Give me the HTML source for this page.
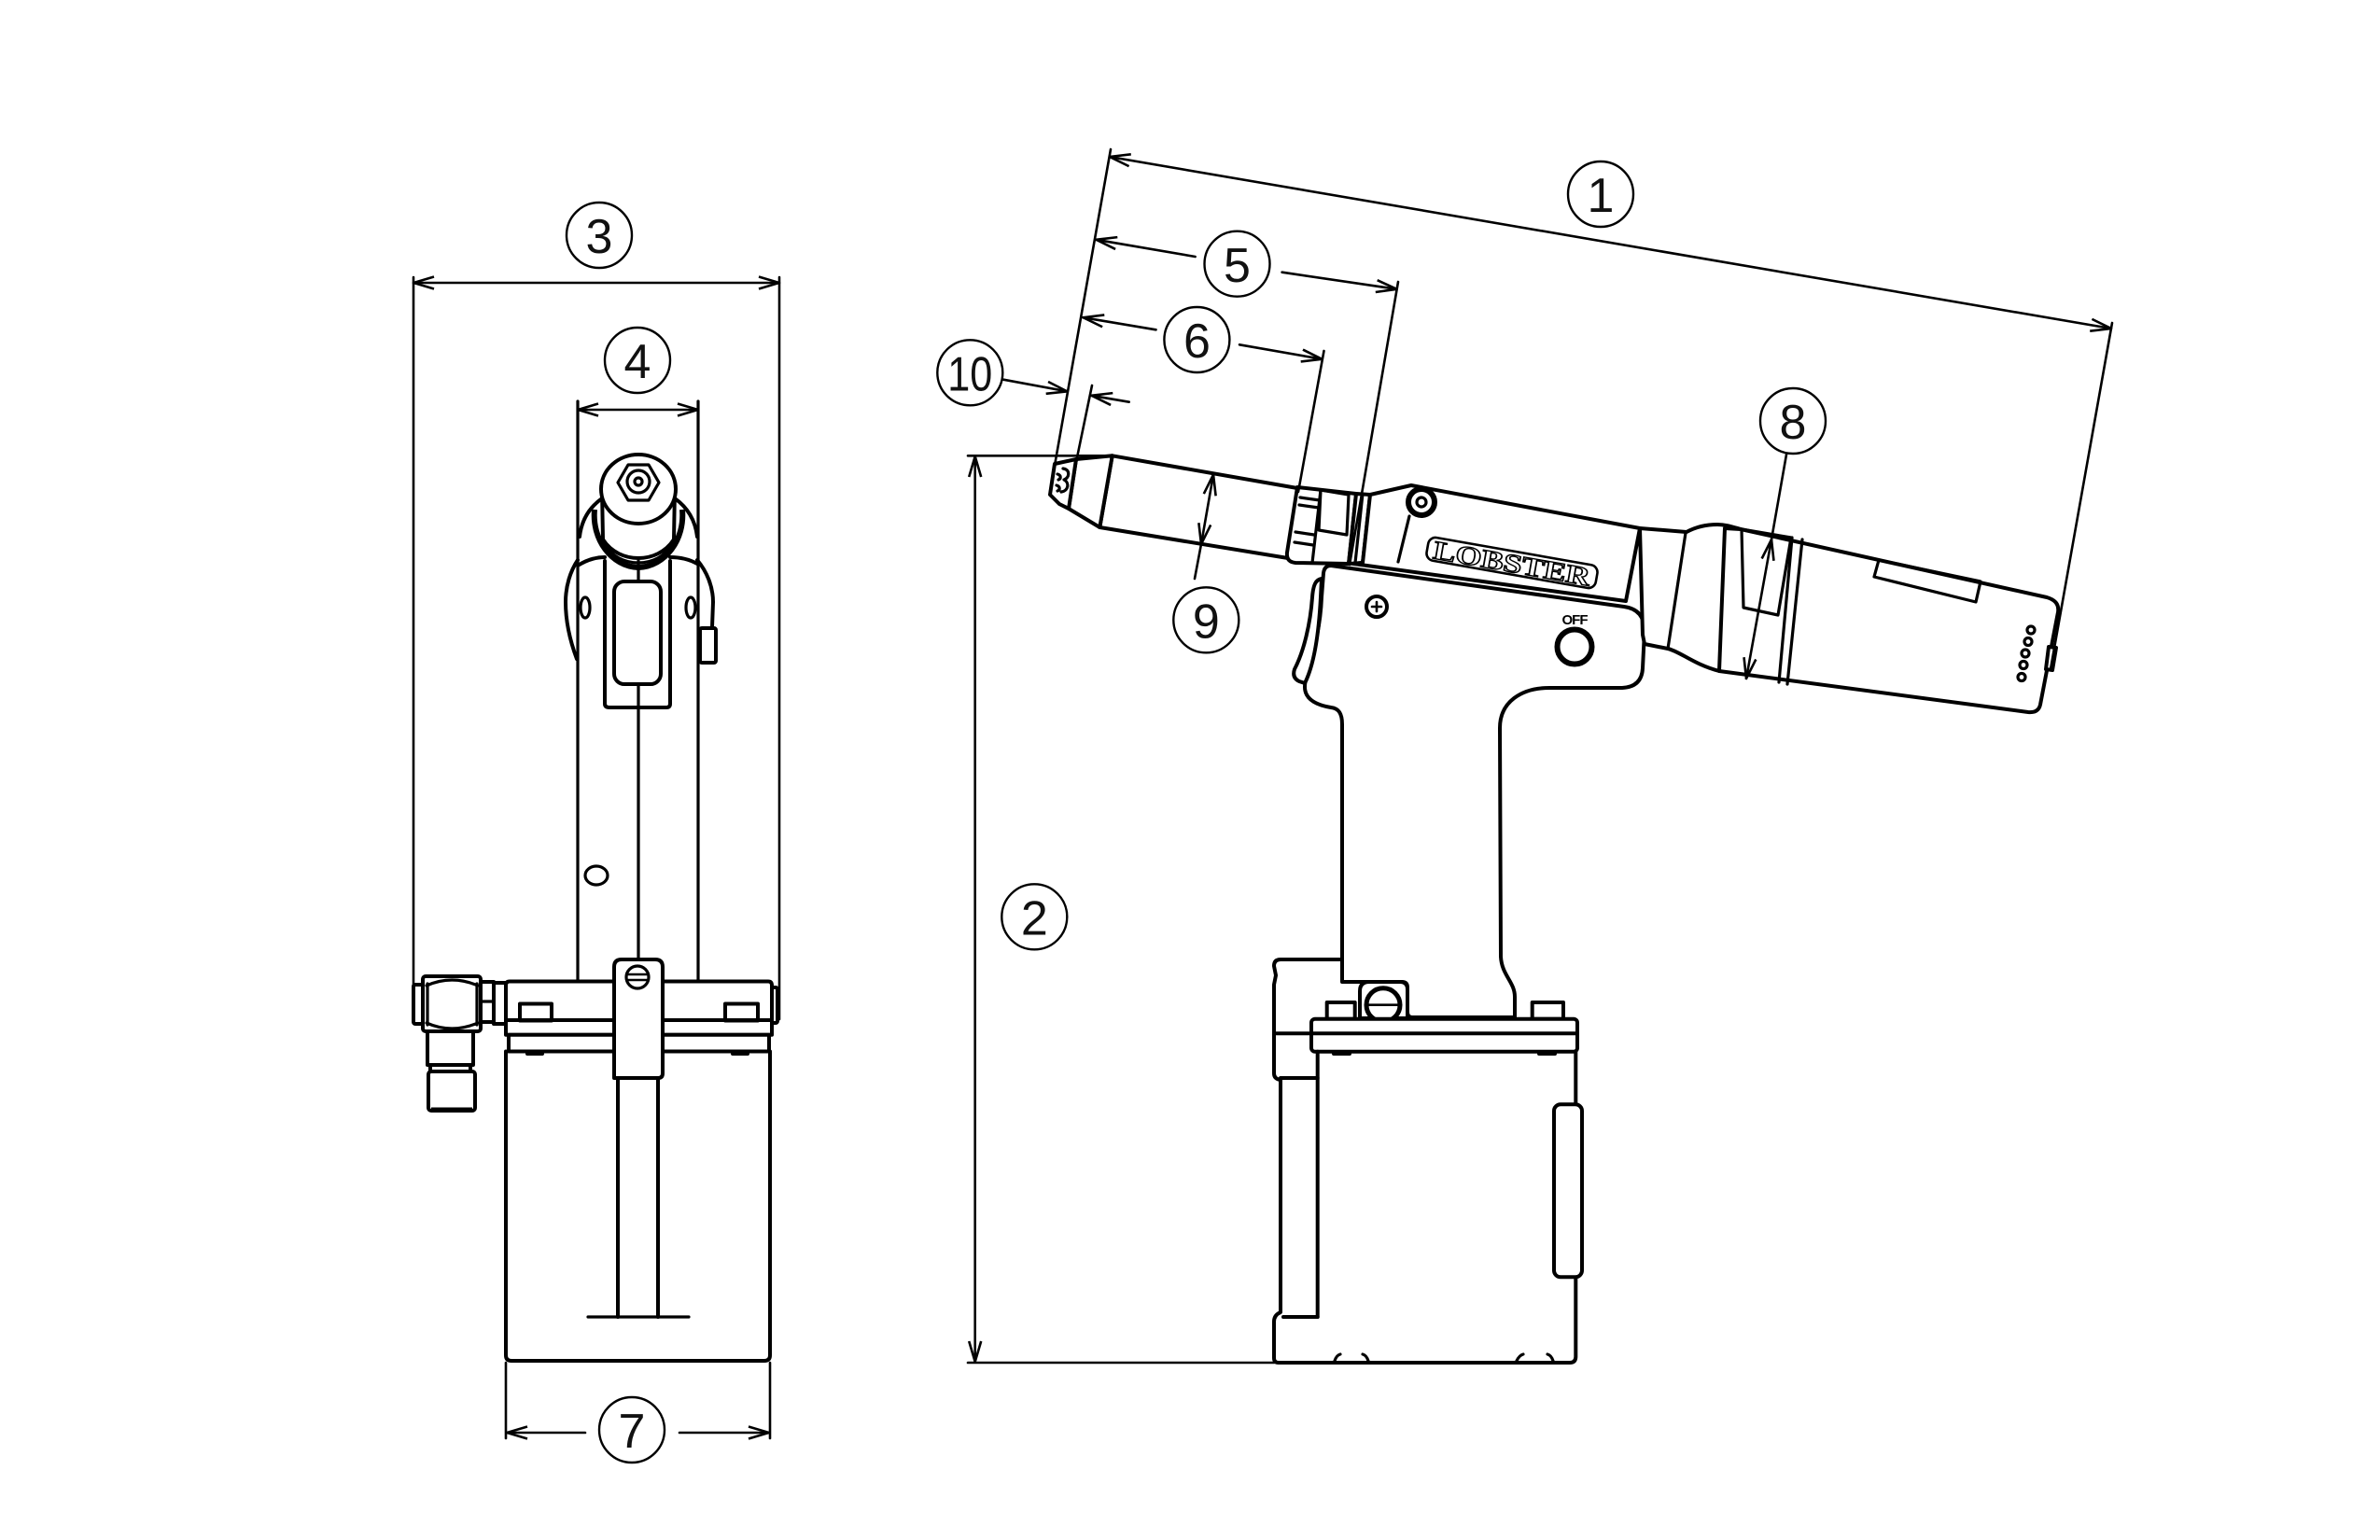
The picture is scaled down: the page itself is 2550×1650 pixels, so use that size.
<!DOCTYPE html>
<html>
<head>
<meta charset="utf-8">
<style>
html,body{margin:0;padding:0;background:#fff;}
svg{display:block;}
.o{fill:#fff;stroke:#000;stroke-width:4;stroke-linejoin:round;stroke-linecap:round;}
.l{fill:none;stroke:#000;stroke-width:4;stroke-linejoin:round;stroke-linecap:round;}
.m{fill:none;stroke:#000;stroke-width:3.2;stroke-linejoin:round;stroke-linecap:round;}
.d{fill:none;stroke:#000;stroke-width:2.6;stroke-linecap:round;}
.c{fill:none;stroke:#000;stroke-width:2.4;}
.t{font-family:"Liberation Sans","DejaVu Sans",sans-serif;font-size:52px;text-anchor:middle;fill:#111;}
</style>
</head>
<body>
<svg width="2550" height="1650" viewBox="0 0 2550 1650" xmlns="http://www.w3.org/2000/svg">
<defs>
<marker id="ar" viewBox="0 0 24 16" refX="23" refY="8" markerWidth="24" markerHeight="16" markerUnits="userSpaceOnUse" orient="auto-start-reverse">
<path d="M1,1.5 L23,8 L1,14.5" fill="none" stroke="#000" stroke-width="2.6"/>
</marker>
</defs>
<rect width="2550" height="1650" fill="#fff"/>

<!-- ================= LEFT VIEW ================= -->
<line class="d" x1="443" y1="297" x2="443" y2="1096"/>
<line class="d" x1="835" y1="297" x2="835" y2="1092"/>
<line class="d" x1="443" y1="303" x2="835" y2="303" marker-start="url(#ar)" marker-end="url(#ar)"/>
<circle class="c" cx="642" cy="252" r="35"/>
<text class="t" x="642" y="271">3</text>

<line class="d" x1="619" y1="439" x2="748" y2="439" marker-start="url(#ar)" marker-end="url(#ar)"/>
<circle class="c" cx="683" cy="386" r="35"/>
<text class="t" x="683" y="405">4</text>

<line class="m" x1="619" y1="430" x2="619" y2="1052"/>
<line class="m" x1="748" y1="430" x2="748" y2="1052"/>

<path class="l" d="M619,600 C611,612 606,628 606,645 C606,668 612,690 618,706"/>
<path class="l" d="M747,600 C757,612 764,628 764,645 L763,672"/>
<path class="l" d="M619,606 C630,599 640,597 648,597"/>
<path class="l" d="M718,597 C728,597 738,599 747,604"/>
<path class="l" d="M621,575 C623,558 631,544 645,534"/>
<path class="l" d="M723,534 C737,544 745,558 747,575"/>
<path fill="none" stroke="#000" stroke-width="6" d="M637,546 C634,578 655,607 684,608 C713,607 734,578 731,546"/>
<path class="m" d="M646,580 C655,597 670,603 684,603 C698,603 713,597 722,580"/>
<path class="o" d="M645,524 L646,578 C655,592 670,598 684,598 C698,598 713,592 722,578 L723,524 Z"/>
<ellipse class="o" cx="684" cy="524" rx="40" ry="37"/>
<polygon class="m" points="706,517 695,498 673,498 662,517 673,536 695,536" fill="#fff"/>
<circle class="m" cx="684" cy="516" r="12"/>
<circle class="m" cx="684" cy="516" r="4"/>

<path class="l" d="M648,601 L648,754 Q648,758 653,758 L714,758 Q718,758 718,754 L718,601"/>
<rect class="l" x="658" y="623" width="50" height="110" rx="11"/>
<line class="m" x1="684" y1="601" x2="684" y2="623"/>
<line class="m" x1="684" y1="733" x2="684" y2="1028"/>
<ellipse class="m" cx="627" cy="651" rx="5" ry="11"/>
<ellipse class="m" cx="740" cy="651" rx="5" ry="11"/>
<rect class="o" x="750" y="673" width="17" height="37" rx="2"/>
<ellipse class="m" cx="639" cy="938" rx="12" ry="10"/>

<path class="o" d="M546,1051.5 L823,1051.5 Q827,1051.5 827,1056 L827,1093 L542,1093 L542,1056 Q542,1051.5 546,1051.5 Z"/>
<rect class="o" x="542" y="1093" width="285" height="15.7"/>
<rect class="o" x="545" y="1108.7" width="279" height="17.8"/>
<rect class="l" x="557" y="1075.5" width="34" height="18"/>
<rect class="l" x="777" y="1075.5" width="35" height="18"/>
<rect class="o" x="827" y="1058" width="6" height="38" rx="2"/>
<rect x="563" y="1126" width="20" height="5" rx="2" fill="#000"/>
<rect x="783" y="1126" width="20" height="5" rx="2" fill="#000"/>
<path class="l" d="M542,1126.5 L542,1452 Q542,1458 548,1458 L819,1458 Q825,1458 825,1452 L825,1126.5"/>
<path class="o" d="M658,1155 L658,1036 Q658,1028 666,1028 L702,1028 Q710,1028 710,1036 L710,1150 Q710,1155 705,1155 Z"/>
<circle class="m" cx="683" cy="1047" r="12"/>
<line class="d" x1="673" y1="1044" x2="693" y2="1044"/>
<line class="d" x1="673" y1="1050" x2="693" y2="1050"/>
<line class="l" x1="662" y1="1155" x2="662" y2="1411"/>
<line class="l" x1="705" y1="1155" x2="705" y2="1411"/>
<line class="m" x1="630" y1="1411" x2="738" y2="1411"/>

<rect class="o" x="443" y="1055" width="10" height="42" rx="2"/>
<rect class="o" x="453" y="1046" width="62" height="59" rx="3"/>
<path class="m" d="M457,1056 Q484,1044 512,1056"/>
<path class="m" d="M457,1096 Q484,1108 512,1096"/>
<line class="m" x1="458" y1="1054" x2="458" y2="1098"/>
<line class="m" x1="511" y1="1054" x2="511" y2="1098"/>
<rect class="o" x="515" y="1052" width="14" height="43"/>
<line class="m" x1="515" y1="1073" x2="529" y2="1073"/>
<rect class="o" x="529" y="1053" width="13" height="44"/>
<rect class="o" x="458" y="1105" width="49" height="36"/>
<rect class="o" x="461" y="1141" width="43" height="7"/>
<rect class="o" x="459" y="1148" width="50" height="42" rx="3"/>
<line x1="462" y1="1189" x2="506" y2="1189" stroke="#000" stroke-width="5"/>

<line class="d" x1="542" y1="1460" x2="542" y2="1541"/>
<line class="d" x1="825" y1="1460" x2="825" y2="1541"/>
<line class="d" x1="627" y1="1535" x2="543" y2="1535" marker-end="url(#ar)"/>
<line class="d" x1="728" y1="1535" x2="824" y2="1535" marker-end="url(#ar)"/>
<circle class="c" cx="677" cy="1532" r="35"/>
<text class="t" x="677" y="1551">7</text>

<!-- ================= RIGHT VIEW ================= -->
<path class="o" d="M1426,606 L1740,650 Q1762,653 1762,676 L1760,716 Q1759,736 1738,737 L1660,737 C1630,737 1607,752 1607,780 L1608,1025 C1609,1045 1623,1052 1623,1068 L1623,1090 L1513,1090 Q1508,1090 1508,1084 L1508,1058 Q1508,1052 1502,1052 L1438,1052 L1438,776 C1438,764 1434,759 1426,758 C1408,755 1398,748 1398,736 C1398,720 1414,690 1416,640 L1418,614 Q1419,606 1426,606 Z"/>
<path class="o" d="M1416,620 C1410,621 1407,626 1406,640 C1404,668 1397,698 1387,717 Q1384,726 1392,730 L1398,732 C1408,712 1413,680 1415,640 Z"/>
<circle class="o" cx="1475" cy="650" r="11"/>
<line class="d" x1="1470" y1="650" x2="1480" y2="650"/>
<line class="d" x1="1475" y1="645" x2="1475" y2="655"/>
<text x="1687" y="669" font-family="Liberation Sans, sans-serif" font-size="15" font-weight="bold" text-anchor="middle" letter-spacing="-1">OFF</text>
<circle cx="1687" cy="693" r="18.5" fill="#fff" stroke="#000" stroke-width="6"/>

<path class="o" d="M1191.7,488.3 L1390,523 L1380,598 L1178.3,565 Z"/>
<path class="o" d="M1153,492 L1191.7,488.3 L1178.3,565 L1145,545 Z"/>
<path class="o" d="M1130,497 L1153,492 L1145,545 L1135,540 L1125,530 Z"/>
<path class="m" d="M1139,502 C1147,503 1146,512 1140,514 C1146,517 1145,526 1137,527"/>
<path class="m" d="M1133,508 C1137,509 1137,513 1134,514 M1132,520 C1136,521 1136,525 1133,526"/>
<path class="o" d="M1390,522 L1453,529 L1445,604 L1388,603 Q1378,602 1379,592 Z"/>
<line class="m" x1="1415" y1="525" x2="1406" y2="603"/>
<line class="m" x1="1393" y1="533" x2="1414" y2="536"/>
<line class="m" x1="1392" y1="541" x2="1413" y2="544"/>
<line class="m" x1="1388" y1="570" x2="1408" y2="573"/>
<line class="m" x1="1387" y1="581" x2="1407" y2="584"/>
<polygon class="m" points="1415,525 1445,530 1443,573 1413,568"/>
<path class="o" d="M1453,529 L1468,530 L1460,603 L1445,604 Z"/>
<line class="m" x1="1460" y1="529" x2="1452" y2="603"/>
<path class="o" d="M1468,530 L1512,520 L1757,566 L1742,644 L1450,604 L1460,603 Z"/>
<line class="m" x1="1510" y1="553" x2="1498" y2="602"/>
<circle cx="1523" cy="538" r="14" fill="#fff" stroke="#000" stroke-width="6"/>
<circle class="m" cx="1523" cy="538" r="5"/>
<g transform="translate(1620,603) rotate(10)">
<rect x="-92" y="-12.5" width="184" height="25" rx="8" fill="#fff" stroke="#000" stroke-width="2.6"/>
<text x="0" y="10" font-family="Liberation Serif, serif" font-size="28" font-weight="bold" text-anchor="middle" textLength="170" lengthAdjust="spacingAndGlyphs" fill="#fff" stroke="#000" stroke-width="1.4">LOBSTER</text>
</g>
<path class="o" d="M1757,566 L1807,570 C1818,564 1828,562 1840,562 C1850,562 1858,565 1865,567 L1842,719 C1815,712 1800,698 1787,695 L1762,690 L1760,680 Z"/>
<line class="m" x1="1806" y1="571" x2="1787" y2="695"/>
<path class="o" d="M1865,567 L2193,640 Q2207,644 2205,656 L2186,755 Q2184,764 2173,763 L1842,719 L1848,566 Z"/>
<polygon class="m" points="1866,567 1919,576 1905,659 1868,651"/>
<line class="m" x1="1920" y1="576" x2="1906" y2="731"/>
<line class="m" x1="1931" y1="578" x2="1915" y2="733"/>
<polygon class="m" points="2013,600 2008,618 2117,645 2122,623"/>
<circle class="m" cx="2176" cy="675" r="4"/>
<circle class="m" cx="2173" cy="687.5" r="4"/>
<circle class="m" cx="2170" cy="700" r="4"/>
<circle class="m" cx="2168" cy="712.5" r="4"/>
<circle class="m" cx="2166" cy="725.5" r="4"/>
<polygon class="o" points="2195,693 2203,694 2199,718 2192,717"/>

<path class="o" d="M1457,1091 L1457,1062 Q1457,1052 1467,1052 L1500,1052 Q1508,1052 1508,1060 L1508,1091 Z"/>
<circle cx="1482" cy="1076.7" r="18" fill="#fff" stroke="#000" stroke-width="5"/>
<line class="d" x1="1466" y1="1076.7" x2="1498" y2="1076.7"/>
<rect class="o" x="1421.7" y="1074" width="30" height="17.7"/>
<rect class="o" x="1641.7" y="1074" width="33.3" height="17.7"/>
<rect class="o" x="1405" y="1091.7" width="285" height="35" rx="4"/>
<line class="l" x1="1405" y1="1107.3" x2="1690" y2="1107.3"/>
<rect x="1427" y="1126" width="21" height="5" rx="2" fill="#000"/>
<rect x="1647" y="1126" width="21" height="5" rx="2" fill="#000"/>
<path class="l" d="M1688.3,1126.7 L1688.3,1454 Q1688,1460 1682,1460 L1370,1460"/>
<line class="l" x1="1411.7" y1="1126.7" x2="1411.7" y2="1411"/>
<line class="l" x1="1411.7" y1="1411" x2="1375" y2="1411"/>
<path class="l" d="M1437,1028 L1372,1028 Q1365,1028 1365,1035 L1367,1045 L1365,1055 L1365,1150 Q1365,1156 1372,1157 L1372,1406 Q1365,1409 1365,1416 L1365,1455 Q1365,1460 1370,1460"/>
<line class="l" x1="1365" y1="1107.3" x2="1405" y2="1107.3"/>
<line class="l" x1="1372" y1="1155" x2="1411.7" y2="1155"/>
<path class="m" d="M1430,1458 Q1432,1452 1436,1451 M1460,1451 Q1464,1452 1466,1458 M1625,1458 Q1628,1452 1632,1451 M1658,1451 Q1662,1452 1664,1458"/>
<rect class="o" x="1665" y="1183.3" width="30" height="185" rx="7"/>

<!-- ================= RIGHT DIMENSIONS ================= -->
<line class="d" x1="1190" y1="160" x2="1125" y2="527"/>
<line class="d" x1="1189" y1="168" x2="2262" y2="352" marker-start="url(#ar)" marker-end="url(#ar)"/>
<line class="d" x1="2263" y1="346" x2="2197" y2="717"/>
<circle class="c" cx="1715" cy="208" r="35"/>
<text class="t" x="1715" y="227">1</text>
<line class="d" x1="1280.6" y1="275" x2="1174.5" y2="256.8" marker-end="url(#ar)"/>
<line class="d" x1="1373.6" y1="291.7" x2="1496.5" y2="309.8" marker-end="url(#ar)"/>
<line class="d" x1="1498" y1="302" x2="1446" y2="605"/>
<circle class="c" cx="1325.5" cy="282.7" r="35"/>
<text class="t" x="1325.5" y="302">5</text>
<line class="d" x1="1238.5" y1="353.3" x2="1160.5" y2="340.2" marker-end="url(#ar)"/>
<line class="d" x1="1328" y1="369.3" x2="1416.5" y2="384.8" marker-end="url(#ar)"/>
<line class="d" x1="1418.5" y1="376" x2="1391" y2="527"/>
<circle class="c" cx="1282.4" cy="364" r="35"/>
<text class="t" x="1282.4" y="383">6</text>
<line class="d" x1="1075" y1="406.7" x2="1143.5" y2="419.4" marker-end="url(#ar)"/>
<line class="d" x1="1209.7" y1="430.7" x2="1169.5" y2="423.8" marker-end="url(#ar)"/>
<line class="d" x1="1170" y1="413" x2="1153" y2="495"/>
<circle class="c" cx="1039.3" cy="399.3" r="35"/>
<text class="t" x="1039.3" y="418.3" textLength="48" lengthAdjust="spacingAndGlyphs">10</text>
<line class="d" x1="1037" y1="488.3" x2="1192" y2="488.3"/>
<line class="d" x1="1037" y1="1460" x2="1365" y2="1460"/>
<line class="d" x1="1044.7" y1="489" x2="1044.7" y2="1459" marker-start="url(#ar)" marker-end="url(#ar)"/>
<circle class="c" cx="1108.3" cy="982.3" r="35"/>
<text class="t" x="1108.3" y="1001.3">2</text>
<line class="d" x1="1300" y1="508.5" x2="1287" y2="583" marker-start="url(#ar)" marker-end="url(#ar)"/>
<line class="d" x1="1287" y1="583" x2="1280" y2="620"/>
<circle class="c" cx="1292.3" cy="664.3" r="35"/>
<text class="t" x="1292.3" y="683.3">9</text>
<line class="d" x1="1914" y1="487" x2="1898" y2="578"/>
<line class="d" x1="1898" y1="578" x2="1871" y2="727" marker-start="url(#ar)" marker-end="url(#ar)"/>
<circle class="c" cx="1921" cy="451" r="35"/>
<text class="t" x="1921" y="470">8</text>
</svg>
</body>
</html>
